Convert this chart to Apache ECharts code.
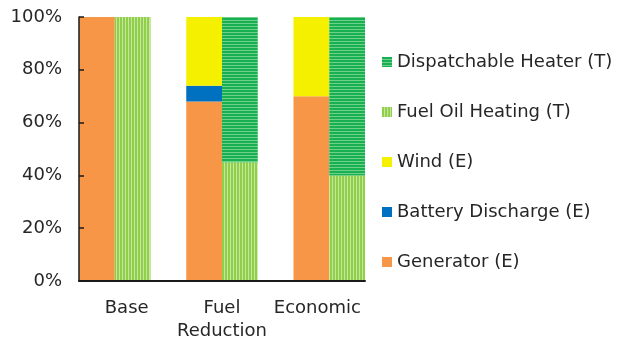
<!DOCTYPE html>
<html>
<head>
<meta charset="utf-8">
<script src="https://cdn.jsdelivr.net/npm/echarts@6/dist/echarts.min.js"></script>
<style>
  html, body { margin: 0; padding: 0; background: #fff; }
  #chart { width: 629px; height: 343px; }
</style>
</head>
<body>
<div id="chart"></div>
<script>
// Scenario names shown under the axis
const scenarios = ['Base', 'Fuel\nReduction', 'Economic'];
const yTicks = [0, 20, 40, 60, 80, 100];

// Electric supply shares (%) per scenario
const generator = [100, 68, 70];
const batteryDischarge = [0, 6, 0];
const wind = [0, 26, 30];

// Thermal supply shares (%) per scenario
const fuelOilHeating = [100, 45, 40];
const dispatchableHeater = [0, 55, 60];

// Each scenario gets three slots: electric bar, thermal bar, empty gap
const SLOTS_PER_SCENARIO = 3;
const slotCount = scenarios.length * SLOTS_PER_SCENARIO - 1;
const slotNames = Array.from({ length: slotCount }, (_, i) => 's' + i);

function toSlots(values, offset) {
  const out = slotNames.map(() => '-');
  values.forEach((v, i) => { out[i * SLOTS_PER_SCENARIO + offset] = v; });
  return out;
}

function stripePattern(base, stripe, vertical) {
  const c = document.createElement('canvas');
  c.width = 3; c.height = 3;
  const ctx = c.getContext('2d');
  ctx.fillStyle = base;
  ctx.fillRect(0, 0, 3, 3);
  ctx.fillStyle = stripe;
  if (vertical) ctx.fillRect(2, 0, 1, 3);
  else ctx.fillRect(0, 2, 3, 1);
  return { image: c, repeat: 'repeat' };
}

const FONT = 'DejaVu Sans';
const TEXT = '#262626';
const FS = 18;

const chart = echarts.init(document.getElementById('chart'), null, { renderer: 'canvas' });

function bar(name, values, offset, color) {
  return {
    name: name,
    type: 'bar',
    stack: 'total',
    xAxisIndex: 0,
    data: toSlots(values, offset),
    barWidth: '100%',
    barGap: '0%',
    barCategoryGap: '0%',
    itemStyle: { color: color },
    emphasis: { disabled: true }
  };
}

chart.setOption({
  animation: false,
  grid: { left: 79, right: 264, top: 17, bottom: 61 },
  legend: {
    orient: 'vertical',
    left: 382,
    top: 53,
    padding: 0,
    itemWidth: 10,
    itemHeight: 10,
    itemGap: 32,
    icon: 'rect',
    textStyle: { fontFamily: FONT, fontSize: FS, color: TEXT },
    data: ['Dispatchable Heater (T)', 'Fuel Oil Heating (T)', 'Wind (E)', 'Battery Discharge (E)', 'Generator (E)']
  },
  xAxis: [
    {
      type: 'category',
      data: slotNames,
      show: false
    },
    {
      type: 'category',
      data: scenarios,
      position: 'bottom',
      z: 5,
      axisLine: { lineStyle: { color: '#1a1a1a', width: 2 } },
      axisTick: { inside: true, length: 6, lineStyle: { color: '#1a1a1a', width: 1.5 } },
      axisLabel: { interval: 0, fontFamily: FONT, fontSize: FS, color: TEXT, margin: 16, lineHeight: 23 }
    }
  ],
  yAxis: {
    type: 'value',
    z: 5,
    min: yTicks[0],
    max: yTicks[yTicks.length - 1],
    interval: yTicks[1] - yTicks[0],
    axisLine: { show: true, lineStyle: { color: '#1a1a1a', width: 1.5 } },
    axisTick: { show: true, inside: true, length: 5, lineStyle: { color: '#1a1a1a', width: 1.5 } },
    splitLine: { show: false },
    axisLabel: { fontFamily: FONT, fontSize: FS, color: TEXT, margin: 17, formatter: '{value}%' }
  },
  series: [
    bar('Generator (E)', generator, 0, '#f79646'),
    bar('Battery Discharge (E)', batteryDischarge, 0, '#0070c0'),
    bar('Wind (E)', wind, 0, '#f5ef00'),
    bar('Fuel Oil Heating (T)', fuelOilHeating, 1, stripePattern('#8fcf4c', '#c5e79c', true)),
    bar('Dispatchable Heater (T)', dispatchableHeater, 1, stripePattern('#18b050', '#6fd08c', false))
  ]
});
</script>
</body>
</html>
